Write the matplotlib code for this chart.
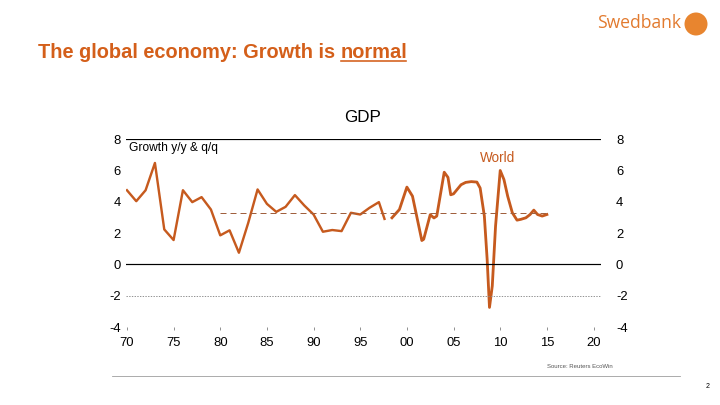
import matplotlib
matplotlib.use("Agg")
import matplotlib.pyplot as plt
import matplotlib.transforms as mtrans
from matplotlib.patches import Circle

plt.rcParams['font.family'] = ['Liberation Sans', 'DejaVu Sans']

# Annual growth (y/y), 1970-1997
annual_years = [1970, 1971, 1972, 1973, 1974, 1975, 1976, 1977, 1978, 1979,
                1980, 1981, 1982, 1983, 1984, 1985, 1986, 1987, 1988, 1989,
                1990, 1991, 1992, 1993, 1994, 1995, 1996, 1997, 1997.6]
annual_growth = [4.73, 4.03, 4.73, 6.47, 2.23, 1.55, 4.73, 3.97, 4.29, 3.50,
                 1.85, 2.17, 0.74, 2.65, 4.78, 3.86, 3.35, 3.67, 4.42, 3.76,
                 3.18, 2.08, 2.19, 2.12, 3.29, 3.18, 3.61, 3.97, 2.90]

# Quarterly growth, 1998-2015
q_time = [1998.4, 1999.2, 2000.0, 2000.6, 2001.6, 2001.8, 2002.5, 2002.9, 2003.2,
          2004.0, 2004.4, 2004.7, 2005.0, 2005.8, 2006.3, 2006.9, 2007.5, 2007.85,
          2008.3, 2008.6, 2008.85, 2009.15, 2009.5, 2010.0, 2010.4, 2010.8,
          2011.3, 2011.8, 2012.2, 2012.75, 2013.2, 2013.6, 2014.0, 2014.5, 2015.0]
q_growth = [2.97, 3.50, 4.93, 4.35, 1.52, 1.60, 3.17, 2.96, 3.08,
            5.88, 5.55, 4.44, 4.50, 5.08, 5.23, 5.28, 5.25, 4.87,
            3.08, 0.32, -2.75, -1.38, 2.44, 5.99, 5.41, 4.35,
            3.29, 2.82, 2.87, 2.97, 3.18, 3.46, 3.18, 3.08, 3.18]

trend_level = 3.25
trend_span = [1980, 2015]

yticks = [-4, -2, 0, 2, 4, 6, 8]
xticks = [1970, 1975, 1980, 1985, 1990, 1995, 2000, 2005, 2010, 2015, 2020]
xticklabels = ["70", "75", "80", "85", "90", "95", "00", "05", "10", "15", "20"]

line_color = '#c65a1e'
title_color = '#d45f1a'

fig = plt.figure(figsize=(10, 5.625), dpi=72)
ax = fig.add_axes([126/720, 1 - 327/405, 475/720, (327 - 139)/405])

ax.plot(annual_years, annual_growth, color=line_color, lw=2.4, solid_joinstyle='round')
ax.plot(q_time, q_growth, color=line_color, lw=2.8, solid_joinstyle='round')
ax.plot(trend_span, [trend_level, trend_level], color='#a0603e', lw=1.0, dashes=(6, 4))

ax.axhline(8, color='black', lw=1.2)
ax.axhline(0, color='black', lw=1.2)
ax.axhline(-2, color='#888888', lw=0.9, ls=(0, (1.5, 1.5)))

ax.set_xlim(1969.9, 2020.8)
ax.set_ylim(-4, 8)
for s in ax.spines.values():
    s.set_visible(False)

ax.set_xticks(xticks)
ax.set_xticklabels(xticklabels)
ax.set_yticks(yticks)
ax.set_yticklabels([str(v) for v in yticks])
ax.tick_params(axis='x', length=3, width=0.8, color='#777777', pad=7, labelsize=13)
ax.tick_params(axis='y', length=0, labelsize=13, left=True, right=True,
               labelleft=True, labelright=True, pad=5)
offset = mtrans.ScaledTranslation(10/72, 0, fig.dpi_scale_trans)
for t in ax.yaxis.get_major_ticks():
    t.label2.set_transform(t.label2.get_transform() + offset)

ax.text(1970.2, 7.45, "Growth y/y & q/q", fontsize=12, va='center', ha='left', color='black')
ax.text(2009.7, 6.8, "World", fontsize=13.5, va='center', ha='center', color=line_color)

fig.text(363/720, 1 - 118/405, "GDP", fontsize=17, ha='center', va='center', color='black')

fs_title = 20
title = fig.text(38/720, 1 - 53/405, "The global economy: Growth is\u00a0", fontsize=fs_title,
                 fontweight='bold', ha='left', va='center', color=title_color)
fig.canvas.draw()
bb = title.get_window_extent()
x_next = bb.x1 / fig.bbox.width
word = fig.text(x_next, 1 - 53/405, "normal", fontsize=fs_title, fontweight='bold', ha='left',
                va='center', color=title_color)
fig.canvas.draw()
nb = word.get_window_extent()
fig.add_artist(plt.Line2D([nb.x0 / fig.bbox.width, (nb.x1 - 1) / fig.bbox.width],
                          [(nb.y0 + 2) / fig.bbox.height] * 2,
                          color=title_color, lw=1.6, transform=fig.transFigure))

fig.text(681/720, 1 - 23/405, "Swedbank", fontsize=17.5, ha='right', va='center',
         color='#e27a2e', family=['Open Sans', 'DejaVu Sans'], fontweight=500)
fig.add_artist(Circle((696/72, (405 - 24)/72), radius=11.5/72, transform=fig.dpi_scale_trans,
                      facecolor='#e8852f', edgecolor='none'))

fig.add_artist(plt.Line2D([112/720, 680/720], [1 - 376/405] * 2, color='#999999', lw=0.8,
                          transform=fig.transFigure))
fig.text(580/720, 1 - 367/405, "Source: Reuters EcoWin", fontsize=6, ha='center',
         va='center', color='#555555')
fig.text(708/720, 1 - 387/405, "2", fontsize=7, ha='center', va='center', color='black')

fig.savefig("out.png", dpi=72, facecolor='white')
